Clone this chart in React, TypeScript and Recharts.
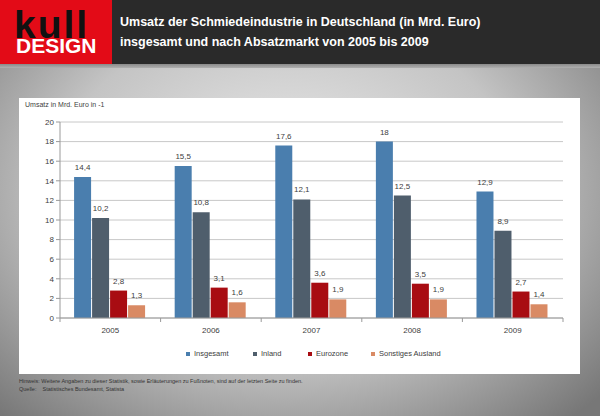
import { BarChart, Bar, XAxis, YAxis, CartesianGrid, LabelList } from "recharts";

const years = ["2005", "2006", "2007", "2008", "2009"];
const insgesamt = [14.4, 15.5, 17.6, 18, 12.9];
const inland = [10.2, 10.8, 12.1, 12.5, 8.9];
const eurozone = [2.8, 3.1, 3.6, 3.5, 2.7];
const sonstiges = [1.3, 1.6, 1.9, 1.9, 1.4];
const yTicks = [0, 2, 4, 6, 8, 10, 12, 14, 16, 18, 20];

const series = [
  { key: "insgesamt", name: "Insgesamt", color: "#4a7eae" },
  { key: "inland", name: "Inland", color: "#4f5e6c" },
  { key: "eurozone", name: "Eurozone", color: "#a80c12" },
  { key: "sonstiges", name: "Sonstiges Ausland", color: "#d98a64" },
];

const data = years.map((year, i) => ({
  year,
  insgesamt: insgesamt[i],
  inland: inland[i],
  eurozone: eurozone[i],
  sonstiges: sonstiges[i],
}));

const FONT = "'Liberation Sans', Arial, sans-serif";
const fmt = (v: any) => String(v).replace(".", ",");

const CHART_W = 561;
const MARGIN = { top: 24, right: 17, left: 0, bottom: 36 };
const BAND = (CHART_W - 41 - MARGIN.right) / years.length;

function YearTick(props: any) {
  const { x, y, payload, index } = props;
  const half = BAND / 2;
  return (
    <g>
      <line x1={x - half} y1={y - 8} x2={x - half} y2={y - 4} stroke="#9a9a9a" />
      {index === years.length - 1 && (
        <line x1={x + half} y1={y - 8} x2={x + half} y2={y - 4} stroke="#9a9a9a" />
      )}
      <text x={x} y={y + 7} textAnchor="middle" fontSize={8} fill="#404040" fontFamily={FONT}>
        {payload.value}
      </text>
    </g>
  );
}

export default function App() {
  return (
    <div
      style={{
        position: "absolute",
        left: 0,
        top: 0,
        width: 600,
        height: 416,
        overflow: "hidden",
        fontFamily: FONT,
        background:
          "radial-gradient(ellipse 70% 75% at 48% 45%, #ececec 0%, #c4c4c4 55%, #777 100%)",
      }}
    >
      {/* header */}
      <div style={{ position: "absolute", left: 0, top: 0, width: 600, height: 64, background: "#2a2a2a" }} />
      <div style={{ position: "absolute", left: 0, top: 64, width: 600, height: 4, background: "linear-gradient(#8a8a8a, #b0b0b0)" }} />
      <div style={{ position: "absolute", left: 0, top: 0, width: 112, height: 64, background: "#e30b17" }}>
        <div style={{ position: "absolute", left: 14, top: 12, fontSize: 39, fontWeight: 700, color: "#111", letterSpacing: 2, lineHeight: "26px" }}>
          kull
        </div>
        <div style={{ position: "absolute", left: 16, top: 38, fontSize: 21, fontWeight: 700, color: "#fff", lineHeight: "16px" }}>
          DESIGN
        </div>
      </div>
      <div style={{ position: "absolute", left: 120, top: 12, color: "#fff", fontSize: 12.5, fontWeight: 700, lineHeight: "20px" }}>
        <div>Umsatz der Schmiedeindustrie in Deutschland (in Mrd. Euro)</div>
        <div>insgesamt und nach Absatzmarkt von 2005 bis 2009</div>
      </div>

      {/* white panel */}
      <div style={{ position: "absolute", left: 19, top: 98, width: CHART_W, height: 276, background: "#fff" }}>
        <div style={{ position: "absolute", left: 6, top: 3, fontSize: 7, color: "#404040" }}>
          Umsatz in Mrd. Euro in -1
        </div>
        <BarChart
          width={CHART_W}
          height={276}
          data={data}
          margin={MARGIN}
          barCategoryGap="14%"
          barGap={1}
        >
          <CartesianGrid vertical={false} stroke="#c8c8c8" />
          <XAxis
            dataKey="year"
            axisLine={{ stroke: "#9a9a9a" }}
            tickLine={false}
            tick={<YearTick />}
            interval={0}
            height={20}
          />
          <YAxis
            domain={[0, 20]}
            ticks={yTicks}
            width={41}
            axisLine={{ stroke: "#9a9a9a" }}
            tickLine={{ stroke: "#9a9a9a" }}
            tickSize={4}
            tick={{ fontSize: 8, fill: "#404040", fontFamily: FONT }}
            interval={0}
          />
          <YAxis
            yAxisId="r"
            orientation="right"
            width={0}
            tick={false}
            tickLine={false}
            axisLine={{ stroke: "#d4d4d4" }}
            domain={[0, 20]}
          />
          {series.map((s) => (
            <Bar key={s.key} dataKey={s.key} name={s.name} fill={s.color} isAnimationActive={false}>
              <LabelList
                dataKey={s.key}
                position="top"
                offset={7}
                formatter={fmt}
                style={{ fontSize: 8, fill: "#404040", fontFamily: FONT }}
              />
            </Bar>
          ))}
        </BarChart>
        {/* legend */}
        <div style={{ position: "absolute", left: 0, top: 251, width: CHART_W, height: 12 }}>
          {series.map((s, i) => (
            <div
              key={s.key}
              style={{
                position: "absolute",
                left: [167, 234, 289, 352][i],
                top: 0,
                display: "flex",
                alignItems: "center",
                fontSize: 7.5,
                color: "#404040",
                whiteSpace: "nowrap",
              }}
            >
              <span style={{ display: "inline-block", width: 4, height: 4, background: s.color, marginRight: 4 }} />
              {s.name}
            </div>
          ))}
        </div>
      </div>

      {/* footnotes */}
      <div style={{ position: "absolute", left: 19, top: 377, fontSize: 5.5, color: "#333", lineHeight: "8px" }}>
        <div>Hinweis: Weitere Angaben zu dieser Statistik, sowie Erläuterungen zu Fußnoten, sind auf der letzten Seite zu finden.</div>
        <div>Quelle:&nbsp;&nbsp;&nbsp;&nbsp;Statistisches Bundesamt, Statista</div>
      </div>
    </div>
  );
}
